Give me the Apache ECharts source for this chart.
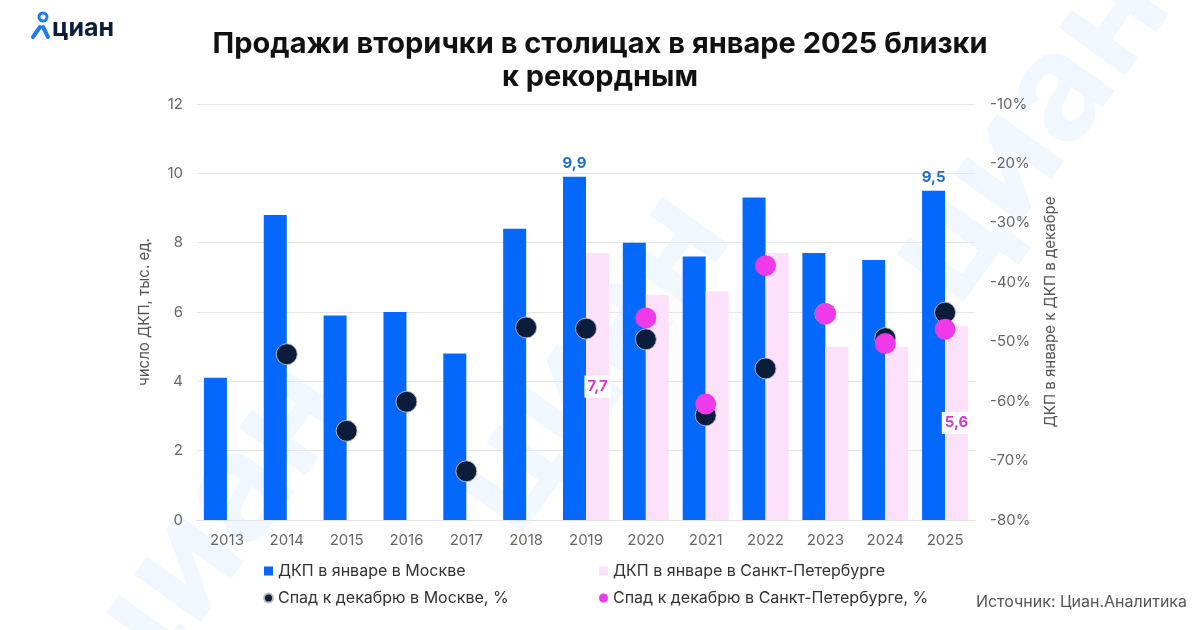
<!DOCTYPE html>
<html>
<head>
<meta charset="utf-8">
<script src="https://cdn.jsdelivr.net/npm/echarts@6/dist/echarts.min.js"></script>
<style>
html,body{margin:0;padding:0;background:#fff;}
#chart{width:1200px;height:630px;}
</style>
</head>
<body>
<div id="chart"></div>
<script>
const years = ['2013','2014','2015','2016','2017','2018','2019','2020','2021','2022','2023','2024','2025'];
const moscowDeals = [4.1, 8.8, 5.9, 6.0, 4.8, 8.4, 9.9, 8.0, 7.6, 9.3, 7.7, 7.5, 9.5];
const spbDeals = [null, null, null, null, null, null, 7.7, 6.5, 6.6, 7.7, 5.0, 5.0, 5.6];
const moscowDrop = [null, -52.1, -65.0, -60.1, -71.8, -47.6, -47.8, -49.6, -62.4, -54.5, -45.3, -49.4, -45.1];
const spbDrop = [null, null, null, null, null, null, null, -46.0, -60.5, -37.2, -45.3, -50.3, -47.9];
const labeledYears = ['2019', '2025'];

const seriesNames = ['ДКП в январе в Москве', 'ДКП в январе в Санкт-Петербурге', 'Спад к декабрю в Москве, %', 'Спад к декабрю в Санкт-Петербурге, %'];
const titleText = 'Продажи вторички в столицах в январе 2025 близки\nк рекордным';
const leftAxisName = 'число ДКП, тыс. ед.';
const rightAxisName = 'ДКП в январе к ДКП в декабре';
const sourceText = 'Источник: Циан.Аналитика';

const FONT = 'Inter, "Noto Sans", sans-serif';
const fmt = v => String(v).replace('.', ',');

const chart = echarts.init(document.getElementById('chart'), null, {renderer: 'canvas'});

const moscowData = moscowDeals.map((v, i) => labeledYears.includes(years[i])
  ? {value: v, label: {show: true}} : v);
const spbData = spbDeals.map((v, i) => (v !== null && labeledYears.includes(years[i]))
  ? {value: v, label: {show: true}} : v);

const wm = (x, y, size) => ({
  type: 'text', x: x, y: y, rotation: 0.95, z: -10, silent: true,
  style: {text: 'циан', fill: '#f1f7fe', font: 'bold ' + size + 'px ' + FONT}
});

chart.setOption({
  backgroundColor: '#fff',
  animation: false,
  textStyle: {fontFamily: FONT},
  title: {
    text: titleText,
    left: 'center', top: 23,
    textStyle: {fontSize: 29, fontWeight: 'bold', color: '#111', lineHeight: 33, fontFamily: FONT}
  },
  graphic: [
    wm(40, 640, 150),
    wm(420, 470, 150),
    wm(860, 240, 150),
    {type: 'circle', shape: {cx: 43, cy: 17, r: 4}, style: {fill: 'none', stroke: '#1f7bf2', lineWidth: 3}},
    {type: 'polyline', shape: {points: [[33, 37], [40, 27]]}, style: {stroke: '#1f7bf2', lineWidth: 4, lineCap: 'round'}},
    {type: 'polyline', shape: {points: [[43, 27], [48, 37]]}, style: {stroke: '#1f7bf2', lineWidth: 4, lineCap: 'round'}},
    {type: 'text', x: 52, y: 16, style: {text: 'циан', fill: '#0b1d3a', font: 'bold 25px ' + FONT}},
    {type: 'text', right: 13, top: 594, style: {text: sourceText, fill: '#555', font: '16px ' + FONT}}
  ],
  legend: [
    {
      orient: 'vertical', left: 263, top: 563, itemGap: 11,
      itemWidth: 9, itemHeight: 9, padding: [0, 0, 0, 0],
      textStyle: {fontSize: 16, color: '#333', fontFamily: FONT},
      data: [{name: seriesNames[0], icon: 'rect'}, {name: seriesNames[2], icon: 'circle'}]
    },
    {
      orient: 'vertical', left: 599, top: 563, itemGap: 11,
      itemWidth: 9, itemHeight: 9, padding: [0, 0, 0, 0],
      textStyle: {fontSize: 16, color: '#333', fontFamily: FONT},
      data: [{name: seriesNames[1], icon: 'rect'}, {name: seriesNames[3], icon: 'circle'}]
    }
  ],
  grid: {left: 197, right: 225, top: 104, bottom: 110},
  xAxis: {
    type: 'category', data: years,
    axisLine: {lineStyle: {color: '#e3e3e3'}},
    axisTick: {show: false},
    axisLabel: {color: '#666', fontSize: 15, margin: 13, fontFamily: FONT}
  },
  yAxis: [
    {
      type: 'value', min: 0, max: 12, interval: 2,
      name: leftAxisName, nameLocation: 'middle', nameRotate: 90, nameGap: 45,
      nameTextStyle: {color: '#555', fontSize: 15, fontFamily: FONT},
      axisLabel: {color: '#666', fontSize: 15, margin: 14, fontFamily: FONT},
      splitLine: {lineStyle: {color: '#e6e6e6'}},
      axisLine: {show: false}, axisTick: {show: false}
    },
    {
      type: 'value', min: -80, max: -10, interval: 10,
      name: rightAxisName, nameLocation: 'middle', nameRotate: 90, nameGap: 68,
      nameTextStyle: {color: '#555', fontSize: 15, fontFamily: FONT},
      axisLabel: {color: '#666', fontSize: 15, margin: 15, formatter: '{value}%', fontFamily: FONT},
      splitLine: {show: false},
      axisLine: {show: false}, axisTick: {show: false}
    }
  ],
  series: [
    {
      name: seriesNames[0], type: 'bar', data: moscowData,
      barWidth: 23, barGap: '0%',
      itemStyle: {color: '#0568fd'},
      label: {show: false, position: 'top', distance: 6, color: '#1d6fc6', fontSize: 15, fontWeight: 'bold',
        fontFamily: FONT, formatter: p => fmt(p.value)},
      z: 2
    },
    {
      name: seriesNames[1], type: 'bar', data: spbData,
      barWidth: 23, barGap: '0%',
      itemStyle: {color: '#fde0fa'},
      label: {show: false, position: 'inside', color: '#d23bcf', fontSize: 15, fontWeight: 'bold',
        backgroundColor: '#fff', padding: [4, 3, 3, 3], fontFamily: FONT, formatter: p => fmt(p.value)},
      z: 2
    },
    {
      name: seriesNames[2], type: 'scatter', yAxisIndex: 1, data: moscowDrop,
      symbolSize: 21,
      itemStyle: {color: '#0b1d3a', borderColor: 'rgba(190,190,190,0.9)', borderWidth: 1, opacity: 1},
      z: 3
    },
    {
      name: seriesNames[3], type: 'scatter', yAxisIndex: 1, data: spbDrop,
      symbolSize: 21,
      itemStyle: {color: '#ee3ae9', opacity: 1},
      z: 4
    }
  ]
});
</script>
</body>
</html>
